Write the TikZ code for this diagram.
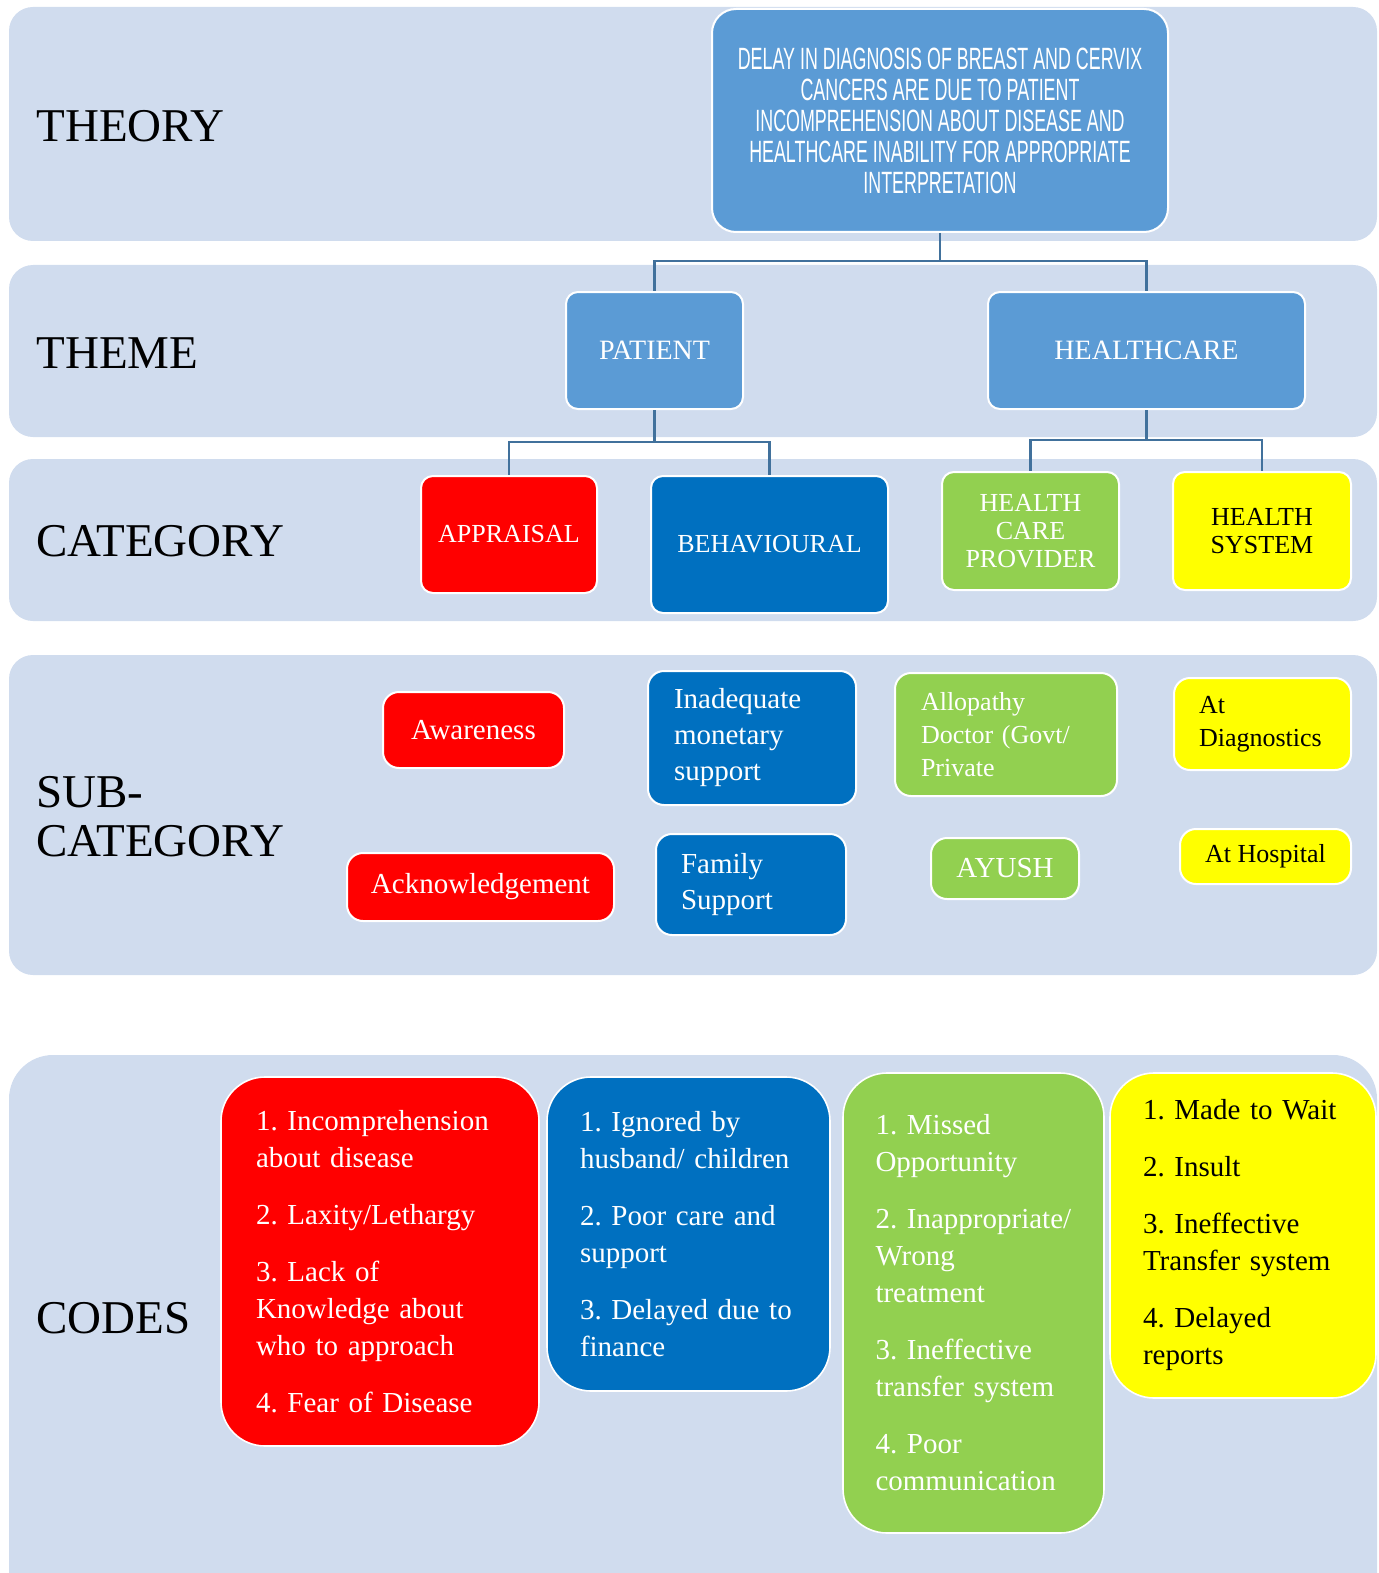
\documentclass[tikz,border=0pt]{standalone}
\usepackage{fontspec}
\setmainfont{Liberation Serif}
\newfontfamily\condfont[FakeStretch=0.58]{Liberation Sans}
\frenchspacing
\hyphenpenalty=10000
\definecolor{bandblue}{RGB}{208,220,238}
\definecolor{topblue}{RGB}{91,155,213}
\definecolor{linkblue}{RGB}{65,113,156}
\definecolor{catred}{RGB}{255,0,0}
\definecolor{catblue}{RGB}{0,112,192}
\definecolor{catgreen}{RGB}{146,208,80}
\definecolor{catyellow}{RGB}{255,255,0}

\tikzset{
    band/.style={fill=bandblue, rounded corners=12pt},
    lbl/.style={anchor=base west, inner sep=0pt, align=left, font=\fontsize{23.5}{24.5}\selectfont},
    box/.style={draw=white, line width=1pt, rounded corners=6pt, align=center, inner sep=0pt, text=white},
    catbox/.style={box, font=\fontsize{13}{14}\selectfont},
    subbox/.style={box, rounded corners=8pt, font=\fontsize{14.5}{18}\selectfont},
    codebox/.style={box, line width=0.8pt, rounded corners=22pt, align=left, font=\fontsize{14.5}{18.5}\selectfont},
    link/.style={draw=linkblue, line width=1.3pt}
}

\begin{document}
\begin{tikzpicture}[x=0.5pt, y=-0.5pt]
    \useasboundingbox (0,0) rectangle (1378,1573);
    \clip (0,0) rectangle (1378,1573);

    % background bands
    \fill[band] (9,7) rectangle (1377,241);
    \fill[band] (9,265) rectangle (1377,437);
    \fill[band] (9,459) rectangle (1377,621);
    \fill[band] (9,655) rectangle (1377,975);
    \fill[band, rounded corners=22pt] (9,1055) rectangle (1377,1620);

    % row labels
    \node[lbl] (ltheory) at (36,142) {THEORY};
    \node[lbl] (ltheme) at (36,368) {THEME};
    \node[lbl] (lcat) at (36,556) {CATEGORY};
    \node[lbl] (lsub) at (36,856) {SUB-\\CATEGORY};
    \node[lbl] (lcodes) at (36,1333) {CODES};

    % theory
    \node[box, fill=topblue, rounded corners=12pt, minimum width=228pt, minimum height=111.5pt,
          font=\condfont\fontsize{15.4}{15.5}\selectfont] (thy) at (940,120.5) {
        DELAY IN DIAGNOSIS OF BREAST AND CERVIX\\
        CANCERS ARE DUE TO PATIENT\\
        INCOMPREHENSION ABOUT DISEASE AND\\
        HEALTHCARE INABILITY FOR APPROPRIATE\\
        INTERPRETATION
    };

    % themes
    \node[box, fill=topblue, font=\fontsize{14}{15}\selectfont, minimum width=88.5pt, minimum height=58.5pt] (pat) at (654.5,350.5) {PATIENT};
    \node[box, fill=topblue, font=\fontsize{14}{15}\selectfont, minimum width=158.5pt, minimum height=58.5pt] (hc) at (1146.5,350.5) {HEALTHCARE};

    % categories
    \node[catbox, fill=catred, minimum width=88pt, minimum height=58.5pt] (appr) at (509,534.5) {APPRAISAL};
    \node[catbox, fill=catblue, minimum width=118.5pt, minimum height=68.5pt] (behav) at (769.5,544.5) {BEHAVIOURAL};
    \node[catbox, fill=catgreen, minimum width=88.5pt, minimum height=59pt] (hcp) at (1030.5,531) {HEALTH\\CARE\\PROVIDER};
    \node[catbox, fill=catyellow, text=black, minimum width=89pt, minimum height=59pt] (hsys) at (1262,531) {HEALTH\\SYSTEM};

    % connectors
    \coordinate (tbus) at (940,261);
    \coordinate (pbus) at (654.5,442);
    \coordinate (hbus) at (1146.5,440);
    \draw[link] (thy.south) -- (tbus);
    \draw[link] (tbus) -| (pat.north);
    \draw[link] (tbus) -| (hc.north);
    \draw[link] (pat.south) -- (pbus);
    \draw[link] (pbus) -| (appr.north);
    \draw[link] (pbus) -| (behav.north);
    \draw[link] (hc.south) -- (hbus);
    \draw[link] (hbus) -| (hcp.north);
    \draw[link] (hbus) -| (hsys.north);

    % sub-categories
    \node[subbox, fill=catred, minimum width=90.5pt, minimum height=38pt] (aware) at (473.5,730) {Awareness};
    \node[subbox, fill=catred, minimum width=133.5pt, minimum height=34pt] (ackn) at (480.5,887) {Acknowledgement};
    \node[subbox, fill=catblue, align=left, text width=78pt, minimum width=104pt, minimum height=67pt] (inadeq) at (752,738) {Inadequate\\monetary\\support};
    \node[subbox, fill=catblue, align=left, text width=70pt, minimum width=95pt, minimum height=50.5pt] (family) at (751,884.5) {Family\\Support};
    \node[subbox, fill=catgreen, align=left, text width=85pt, minimum width=111pt, minimum height=61.5pt,
          font=\fontsize{13}{16.5}\selectfont] (allo) at (1006,734.5) {Allopathy\\Doctor (Govt/\\Private};
    \node[subbox, fill=catgreen, minimum width=74pt, minimum height=30.5pt] (ayush) at (1005,868.5) {AYUSH};
    \node[subbox, fill=catyellow, text=black, align=left, text width=63.5pt, minimum width=88.5pt, minimum height=46pt,
          font=\fontsize{13}{16.5}\selectfont] (atdiag) at (1262.5,724) {At\\Diagnostics};
    \node[subbox, fill=catyellow, text=black, minimum width=85.5pt, minimum height=27.5pt,
          font=\fontsize{13}{16.5}\selectfont] (athosp) at (1265.5,856.5) {At Hospital};

    % codes
    \node[codebox, fill=catred, text width=124pt, minimum width=159pt, minimum height=184.5pt] (cred) at (380,1261.5) {
        1. Incomprehension\\about disease\\[10pt]
        2. Laxity/Lethargy\\[10pt]
        3. Lack of\\Knowledge about\\who to approach\\[10pt]
        4. Fear of Disease};
    \node[codebox, fill=catblue, text width=108.5pt, minimum width=141.5pt, minimum height=157pt] (cblue) at (688.5,1234) {
        1. Ignored by\\husband/ children\\[10pt]
        2. Poor care and\\support\\[10pt]
        3. Delayed due to\\finance};
    \node[codebox, fill=catgreen, text width=98pt, minimum width=130.5pt, minimum height=230pt] (cgreen) at (973.5,1303) {
        1. Missed\\Opportunity\\[10pt]
        2. Inappropriate/\\Wrong\\treatment\\[10pt]
        3. Ineffective\\transfer system\\[10pt]
        4. Poor\\communication};
    \node[codebox, fill=catyellow, text=black, text width=100pt, minimum width=133pt, minimum height=162.5pt] (cyel) at (1243,1235.5) {
        1. Made to Wait\\[10pt]
        2. Insult\\[10pt]
        3. Ineffective\\Transfer system\\[10pt]
        4. Delayed\\reports};
\end{tikzpicture}
\end{document}
